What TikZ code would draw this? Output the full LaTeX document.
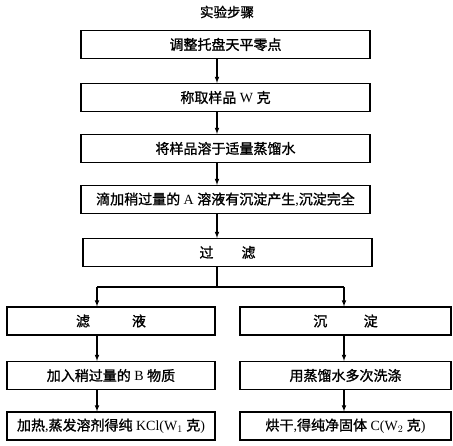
\documentclass[tikz,border=0pt]{standalone}
\usepackage{fontspec}
\setmainfont{Liberation Serif}
\newfontfamily\cjk[FakeBold=1.2]{Noto Sans CJK SC}
\newcommand{\zh}[1]{{\cjk #1}}
\usetikzlibrary{arrows}
\tikzset{
  stepbox/.style={draw, line width=1.1pt, minimum height=28pt, inner sep=0pt,
    font=\fontsize{14}{16}\selectfont},
  widebox/.style={stepbox, minimum width=289pt},
  leftbox/.style={stepbox, minimum width=208pt},
  rightbox/.style={stepbox, minimum width=211pt},
  flow/.style={-latex, line width=1.1pt},
}

\begin{document}
\begin{tikzpicture}[x=1pt, y=-1pt]
  \useasboundingbox (0,0) rectangle (453,446);
  \node[font=\fontsize{13.5}{15}\selectfont] (title) at (227,12) {\zh{实验步骤}};
  % main steps
  \node[widebox] (zero) at (225.5,44.5) {\zh{调整托盘天平零点}};
  \node[widebox] (weigh) at (225.5,97.5) {\zh{称取样品} W \zh{克}};
  \node[widebox] (dissolve) at (225.5,148.5) {\zh{将样品溶于适量蒸馏水}};
  \node[widebox] (addA) at (225.5,199.5) {\zh{滴加稍过量的} A \zh{溶液有沉淀产生},\zh{沉淀完全}};
  \node[widebox] (filter) at (227.5,252.5) {\zh{过}\hspace{2em}\zh{滤}};
  % two branches
  \node[leftbox] (filtrate) at (111,321) {\zh{滤}\hspace{3em}\zh{液}};
  \node[leftbox] (addB) at (111,375.5) {\zh{加入稍过量的} B \zh{物质}};
  \node[leftbox] (kcl) at (111,426) {\zh{加热},\zh{蒸发溶剂得纯} KCl(W$_1$ \zh{克})};
  \node[rightbox] (precip) at (345.5,321) {\zh{沉}\hspace{2.6em}\zh{淀}};
  \node[rightbox] (wash) at (345.5,375.5) {\zh{用蒸馏水多次洗涤}};
  \node[rightbox] (dry) at (345.5,426) {\zh{烘干},\zh{得纯净固体} C(W$_2$ \zh{克})};

  \coordinate (mid) at (217,0);
  \coordinate (split) at (217,287);
  \coordinate (lcol) at (97,287);
  \coordinate (rcol) at (344,287);

  \foreach \a/\b in {zero/weigh, weigh/dissolve, dissolve/addA, addA/filter}
    \draw[flow] (\a.south -| mid) -- (\b.north -| mid);
  \draw[line width=1.1pt] (filter.south -| split) -- (split);
  \draw[line width=1.1pt] (lcol) -- (rcol);
  \draw[flow] (lcol) -- (filtrate.north -| lcol);
  \draw[flow] (rcol) -- (precip.north -| rcol);
  \foreach \a/\b in {filtrate/addB, addB/kcl}
    \draw[flow] (\a.south -| lcol) -- (\b.north -| lcol);
  \foreach \a/\b in {precip/wash, wash/dry}
    \draw[flow] (\a.south -| rcol) -- (\b.north -| rcol);
\end{tikzpicture}
\end{document}
